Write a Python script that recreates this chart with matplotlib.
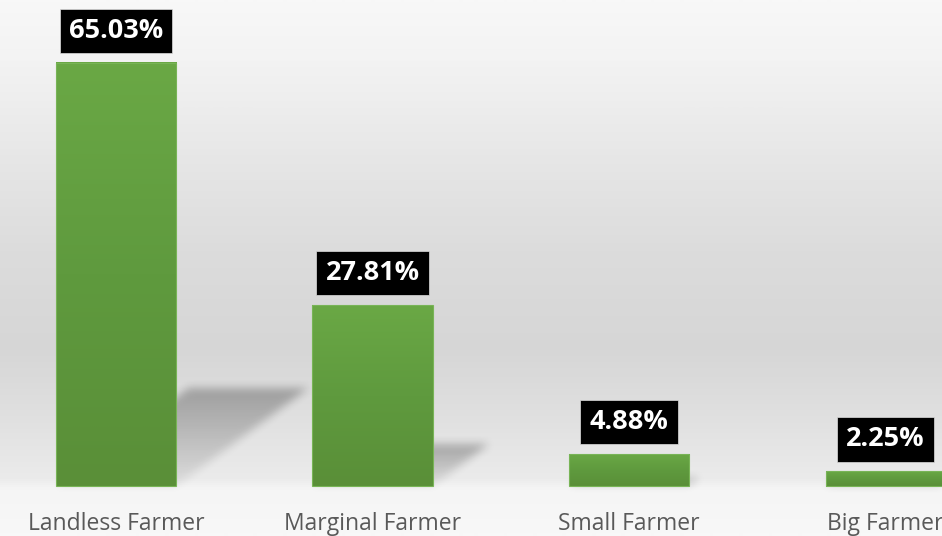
import numpy as np
import matplotlib
matplotlib.use("Agg")
import matplotlib.pyplot as plt
from matplotlib.colors import LinearSegmentedColormap

categories = ["Landless Farmer", "Marginal Farmer", "Small Farmer", "Big Farmer"]
shares = [65.03, 27.81, 4.88, 2.25]
labels = ["65.03%", "27.81%", "4.88%", "2.25%"]

plt.rcParams['font.family'] = ['Open Sans', 'DejaVu Sans']

fig = plt.figure(figsize=(9.42, 5.36), dpi=100)
ax = fig.add_axes([0, 0, 1, 1])
ax.set_axis_off()

xlim = (-0.452, 3.220)
ylim = (-7.69, 74.71)
ax.set_xlim(*xlim)
ax.set_ylim(*ylim)

# background gradient (top of figure -> bottom)
bg_stops = [(0.0, "#f8f8f8"), (0.11, "#f3f3f3"), (0.32, "#e5e5e5"), (0.47, "#dcdcdc"),
            (0.65, "#d6d6d6"), (0.78, "#e0e0e0"), (0.895, "#ebebeb"), (0.915, "#f5f5f5"),
            (1.0, "#f8f8f8")]
bg_cmap = LinearSegmentedColormap.from_list("bg", bg_stops)
grad = np.linspace(0, 1, 536).reshape(-1, 1)
ax.imshow(grad, cmap=bg_cmap, extent=(*xlim, ylim[0], ylim[1]), aspect='auto',
          origin='upper', zorder=0, interpolation='bilinear')

# shadows, projected up and to the right and blurred
nx, ny = 942, 536
xs = np.linspace(xlim[0], xlim[1], nx)
ys = np.linspace(ylim[1], ylim[0], ny)
X, Y = np.meshgrid(xs, ys)
alpha = np.zeros((ny, nx))
width = 0.468
for i, h in enumerate(shares):
    dx = h * 0.0079
    dy = h * 0.23
    t = np.clip(Y / dy, 0, 1)
    inside = (Y >= 0) & (Y <= dy) & (X >= i - width / 2 + t * dx) & (X <= i + width / 2 + t * dx)
    alpha = np.maximum(alpha, inside * (0.06 + 0.22 * t))


def blur(a, k):
    kern = np.ones(k) / k
    a = np.apply_along_axis(lambda r: np.convolve(r, kern, mode='same'), 1, a)
    a = np.apply_along_axis(lambda c: np.convolve(c, kern, mode='same'), 0, a)
    return a


alpha = blur(blur(alpha, 11), 9)
shadow = np.zeros((ny, nx, 4))
shadow[..., 3] = alpha
ax.imshow(shadow, extent=(*xlim, ylim[0], ylim[1]), aspect='auto', origin='upper',
          zorder=1, interpolation='bilinear')

# bars with vertical green gradient
bar_cmap = LinearSegmentedColormap.from_list("bar", ["#5a8f38", "#5f9a3e", "#6aa845"])
bars = ax.bar(range(len(shares)), shares, width=width, color='none',
              edgecolor='#78b456', linewidth=0.8, zorder=3)
for b in bars:
    x0, y0 = b.get_x(), b.get_y()
    ax.imshow(np.linspace(0, 1, 100).reshape(-1, 1), cmap=bar_cmap, origin='lower',
              extent=(x0, x0 + b.get_width(), y0, y0 + b.get_height()),
              aspect='auto', zorder=2, interpolation='bilinear')

# value labels in black boxes
for i, (h, lab) in enumerate(zip(shares, labels)):
    ax.annotate(lab, (i, h), xytext=(0, 18), textcoords='offset points',
                ha='center', va='baseline', color='white', fontsize=19.5, fontweight='bold',
                bbox=dict(boxstyle='square,pad=0.34', fc='black', ec='#dddddd', lw=0.5),
                zorder=5)

# category labels
for i, cat in enumerate(categories):
    ax.annotate(cat, (i, 0), xytext=(0, -31.5), textcoords='offset points',
                ha='center', va='baseline', color='#595959', fontsize=16.5, zorder=5)

ax.set_xlim(*xlim)
ax.set_ylim(*ylim)
fig.savefig("out.png", dpi=100)
